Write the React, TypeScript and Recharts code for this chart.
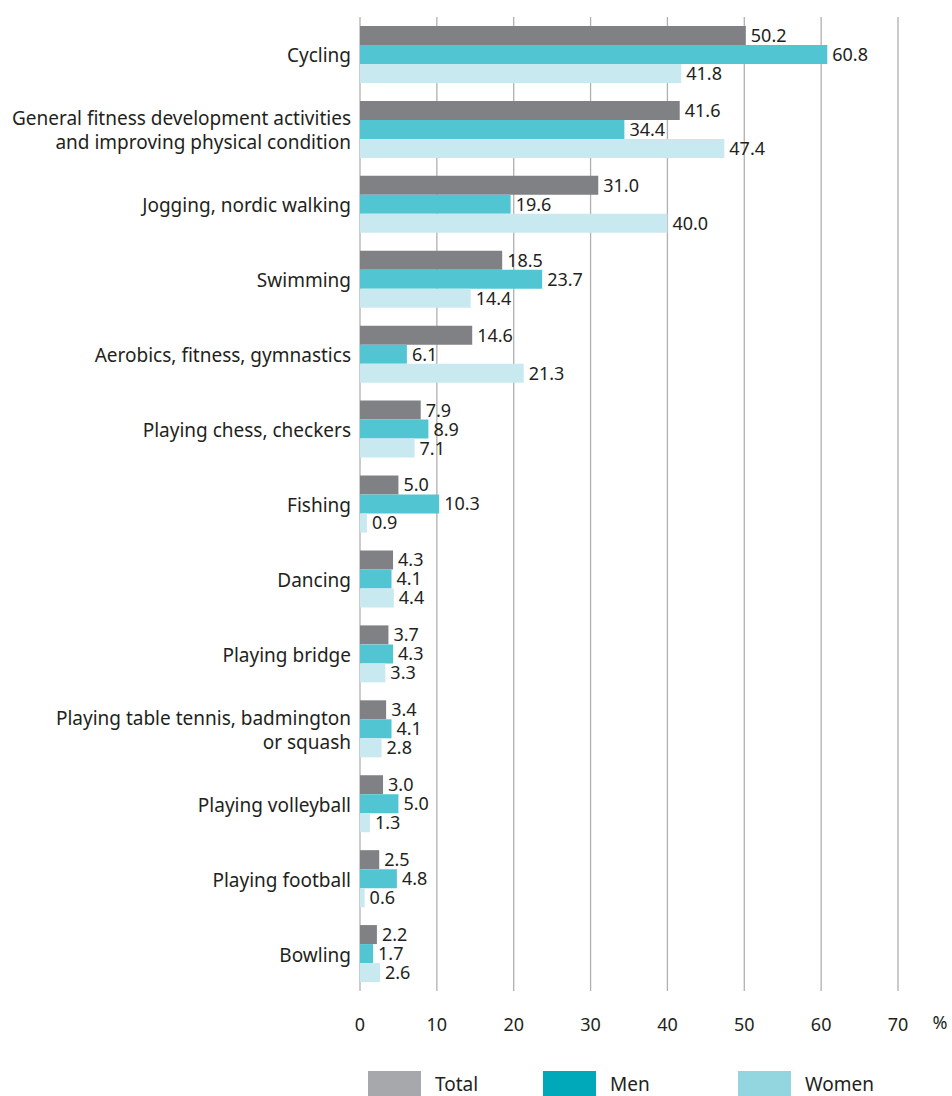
import React from 'react';
import { BarChart, Bar, XAxis, YAxis, CartesianGrid, LabelList } from 'recharts';

const categories = [
  'Cycling',
  'General fitness development activities\nand improving physical condition',
  'Jogging, nordic walking',
  'Swimming',
  'Aerobics, fitness, gymnastics',
  'Playing chess, checkers',
  'Fishing',
  'Dancing',
  'Playing bridge',
  'Playing table tennis, badmington\nor squash',
  'Playing volleyball',
  'Playing football',
  'Bowling',
];
const totalValues = [50.2, 41.6, 31.0, 18.5, 14.6, 7.9, 5.0, 4.3, 3.7, 3.4, 3.0, 2.5, 2.2];
const menValues = [60.8, 34.4, 19.6, 23.7, 6.1, 8.9, 10.3, 4.1, 4.3, 4.1, 5.0, 4.8, 1.7];
const womenValues = [41.8, 47.4, 40.0, 14.4, 21.3, 7.1, 0.9, 4.4, 3.3, 2.8, 1.3, 0.6, 2.6];
const xTicks = [0, 10, 20, 30, 40, 50, 60, 70];

const seriesNames = ['Total', 'Men', 'Women'];
const seriesKeys = ['total', 'men', 'women'];
const barColors = ['#808184', '#52c5d3', '#c8e9f0'];
const legendColors = ['#a7a8ab', '#00a9b9', '#93d6e0'];

const data = categories.map((name, i) => ({
  name,
  total: totalValues[i],
  men: menValues[i],
  women: womenValues[i],
}));

const FONT = '"Noto Sans", sans-serif';
const TEXT = '#231f20';

const YTick = (props: any) => {
  const { x, y, payload } = props;
  const lines = String(payload.value).split('\n');
  const lh = 24;
  const start = -((lines.length - 1) * lh) / 2;
  return (
    <text x={x} y={y} textAnchor="end" fill={TEXT} fontSize={19} fontFamily={FONT}>
      {lines.map((l, i) => (
        <tspan key={i} x={x} dy={i === 0 ? start + 8 : lh}>
          {l}
        </tspan>
      ))}
    </text>
  );
};

const XTick = (props: any) => {
  const { x, y, payload } = props;
  return (
    <text x={x} y={y} dy={32} textAnchor="middle" fill={TEXT} fontSize={18} fontFamily={FONT}>
      {payload.value}
    </text>
  );
};

const PctLabel = (props: any) => {
  const vb = props.viewBox || {};
  return (
    <text x={vb.x + vb.width + 42} y={vb.y} dy={38} textAnchor="middle" fill={TEXT} fontSize={18} fontFamily={FONT}>
      %
    </text>
  );
};

export default function App() {
  return (
    <div style={{ position: 'absolute', left: 0, top: 0, width: 952, height: 1096, background: '#fff', overflow: 'hidden' }}>
      <BarChart
        width={952}
        height={1096}
        data={data}
        layout="vertical"
        margin={{ top: 17, right: 54, bottom: 70, left: 0 }}
        barSize={19}
        barGap={0}
      >
        <CartesianGrid horizontal={false} stroke="#b0b0b0" strokeWidth={1.3} />
        <XAxis
          type="number"
          domain={[0, 70]}
          ticks={xTicks}
          axisLine={false}
          tickLine={false}
          height={35}
          tick={<XTick />}
          interval={0}
          label={<PctLabel />}
        />
        <YAxis
          type="category"
          dataKey="name"
          width={360}
          axisLine={false}
          tickLine={false}
          tick={<YTick />}
          interval={0}
          tickMargin={3}
        />
        {seriesKeys.map((k, i) => (
          <Bar key={k} dataKey={k} name={seriesNames[i]} fill={barColors[i]} isAnimationActive={false}>
            <LabelList
              dataKey={k}
              position="right"
              offset={5}
              fill={TEXT}
              fontSize={18}
              fontFamily={FONT}
              formatter={(v: any) => Number(v).toFixed(1)}
            />
          </Bar>
        ))}
      </BarChart>
      <div style={{ position: 'absolute', left: 0, top: 1071, width: 952, height: 25, fontFamily: FONT, fontSize: 19, color: TEXT }}>
        {seriesNames.map((n, i) => (
          <div
            key={n}
            style={{ position: 'absolute', left: [368, 543, 738][i], top: 0, display: 'flex', alignItems: 'center', height: 25 }}
          >
            <div style={{ width: 53, height: 25, background: legendColors[i] }} />
            <span style={{ marginLeft: 14, lineHeight: '24px' }}>{n}</span>
          </div>
        ))}
      </div>
    </div>
  );
}
